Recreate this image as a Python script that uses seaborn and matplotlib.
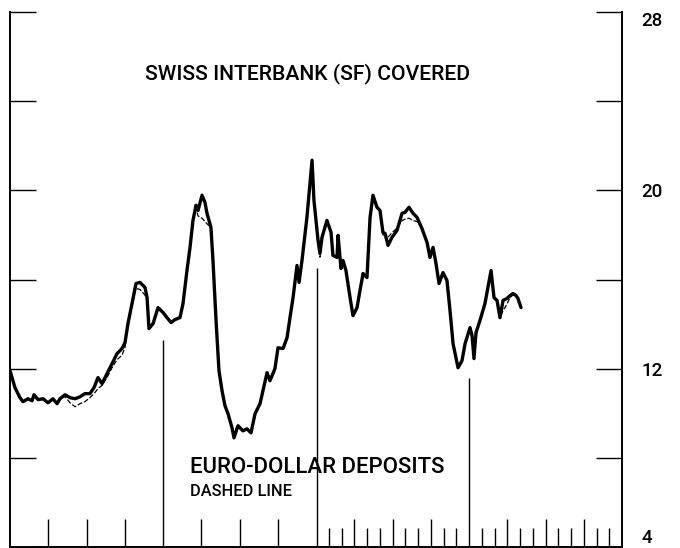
import numpy as np
import pandas as pd
import matplotlib
matplotlib.use("Agg")
import matplotlib.pyplot as plt
import seaborn as sns

# months since start of the 4-year window
months = [0.00, 0.39, 0.78, 1.02, 1.41, 1.73, 1.88, 2.20, 2.59, 2.98,
          3.37, 3.69, 3.92, 4.31, 4.71, 5.10, 5.49, 5.88, 6.27, 6.59,
          6.90, 7.22, 7.61, 8.00, 8.39, 8.78, 9.02, 9.25, 9.41, 9.57,
          9.88, 10.20, 10.59, 10.75, 10.90, 11.22, 11.61, 12.00, 12.31, 12.63,
          12.94, 13.33, 13.57, 13.88, 14.12, 14.35, 14.59, 14.75, 15.06, 15.29,
          15.45, 15.76, 15.92, 16.16, 16.39, 16.63, 16.86, 17.10, 17.41, 17.57,
          17.88, 18.27, 18.59, 18.90, 19.22, 19.61, 19.84, 20.16, 20.39, 20.78,
          21.02, 21.41, 21.73, 21.96, 22.20, 22.51, 22.67, 22.90, 23.29, 23.69,
          23.84, 24.16, 24.31, 24.47, 24.86, 25.18, 25.33, 25.65, 25.73, 25.96,
          26.12, 26.35, 26.67, 26.90, 27.22, 27.45, 27.69, 28.00, 28.24, 28.47,
          28.78, 29.02, 29.25, 29.41, 29.65, 29.96, 30.35, 30.75, 30.98, 31.29,
          31.61, 31.92, 32.31, 32.71, 32.94, 33.18, 33.41, 33.65, 33.96, 34.27,
          34.51, 34.75, 35.14, 35.45, 35.69, 36.08, 36.24, 36.39, 36.55, 36.86,
          37.25, 37.73, 37.96, 38.20, 38.43, 38.67, 38.98, 39.22, 39.45, 39.69,
          39.84, 40.08]

# Swiss interbank (SF) covered - solid line
swiss = [11.91, 11.15, 10.70, 10.52, 10.65, 10.56, 10.83, 10.61, 10.65, 10.47,
         10.65, 10.43, 10.65, 10.83, 10.70, 10.65, 10.74, 10.88, 10.88, 11.15,
         11.60, 11.33, 11.78, 12.22, 12.67, 12.90, 13.17, 14.02, 14.47, 14.92,
         15.82, 15.87, 15.64, 15.19, 13.80, 14.02, 14.74, 14.52, 14.29, 14.07,
         14.20, 14.29, 14.92, 16.40, 17.44, 18.65, 19.33, 19.10, 19.78, 19.46,
         18.97, 18.34, 16.85, 14.16, 11.91, 11.01, 10.34, 9.98, 9.35, 8.90,
         9.44, 9.21, 9.30, 9.12, 9.98, 10.43, 11.01, 11.82, 11.46, 12.00,
         12.94, 12.90, 13.39, 14.29, 15.19, 16.63, 15.87, 16.85, 18.79, 21.35,
         19.55, 17.75, 17.17, 17.89, 18.65, 18.11, 17.08, 16.99, 17.98, 16.49,
         16.85, 16.40, 15.19, 14.38, 14.74, 15.51, 16.27, 16.09, 18.79, 19.78,
         19.24, 19.10, 18.11, 18.07, 17.53, 17.89, 18.20, 18.97, 19.01, 19.24,
         18.97, 18.79, 18.29, 17.66, 16.99, 17.44, 16.72, 15.82, 16.31, 15.96,
         14.61, 13.12, 12.04, 12.36, 13.12, 13.84, 13.48, 12.45, 13.62, 14.16,
         14.92, 16.40, 15.19, 15.06, 14.29, 15.06, 15.15, 15.28, 15.37, 15.28,
         15.15, 14.74]

# Euro-dollar deposits - dashed line
euro = [11.91, 11.15, 10.70, 10.52, 10.65, 10.56, 10.83, 10.61, 10.65, 10.47,
        10.65, 10.43, 10.65, 10.75, 10.47, 10.29, 10.43, 10.52, 10.70, 10.88,
        11.10, 11.25, 11.60, 12.04, 12.40, 12.60, 12.95, 13.90, 14.40, 14.85,
        15.60, 15.55, 15.30, 15.05, 13.80, 14.02, 14.74, 14.52, 14.29, 14.07,
        14.20, 14.29, 14.92, 16.40, 17.44, 18.65, 19.20, 18.85, 18.75, 18.60,
        18.50, 18.34, 16.85, 14.16, 11.91, 11.01, 10.34, 9.98, 9.35, 8.90,
        9.44, 9.21, 9.30, 9.12, 9.98, 10.43, 11.01, 11.82, 11.46, 12.00,
        12.94, 12.90, 13.39, 14.29, 15.19, 16.63, 15.87, 16.85, 18.79, 21.35,
        19.55, 17.60, 17.00, 17.80, 18.65, 18.11, 17.08, 16.99, 17.98, 16.49,
        16.85, 16.40, 15.19, 14.38, 14.74, 15.51, 16.27, 16.09, 18.79, 19.78,
        19.24, 19.10, 18.00, 18.00, 17.90, 18.10, 18.30, 18.65, 18.70, 18.75,
        18.65, 18.60, 18.29, 17.66, 16.99, 17.44, 16.72, 15.82, 16.31, 15.96,
        14.61, 13.12, 12.04, 12.36, 13.12, 13.84, 13.48, 12.45, 13.62, 14.16,
        14.92, 16.40, 15.19, 15.06, 14.29, 14.60, 14.90, 15.20, 15.30, 15.28,
        15.15, 14.74]

# year boundary markers and how far they rise
year_marks = [12, 24.1, 36]
year_mark_tops = [13.3, 16.5, 11.6]

y_ticks = [4, 8, 12, 16, 20, 24, 28]
y_labels = ["4", "", "12", "", "20", "", "28"]

df = pd.DataFrame({"month": months, "swiss": swiss, "euro": euro})

sns.set_style("white")
plt.rcParams["font.family"] = ["Roboto", "Liberation Sans", "DejaVu Sans"]
plt.rcParams["text.color"] = "black"
plt.rcParams["ytick.labelcolor"] = "black"

fig = plt.figure(figsize=(6.8, 5.48), dpi=100)
ax = fig.add_axes([10 / 680, 1 / 548, 612 / 680, 535 / 548])

sns.lineplot(data=df, x="month", y="euro", ax=ax, color="black",
             linewidth=0.9, linestyle=(0, (4, 1.5)), estimator=None, sort=False, zorder=2)
sns.lineplot(data=df, x="month", y="swiss", ax=ax, color="black",
             linewidth=2.4, estimator=None, sort=False, zorder=3)

ax.vlines(year_marks, 4, year_mark_tops, color="black", linewidth=1.0)

ax.set_xlim(0, 48)
ax.set_ylim(4, 28)
ax.set_xlabel("")
ax.set_ylabel("")

# spines
ax.spines["top"].set_visible(False)
for s in ["left", "right", "bottom"]:
    ax.spines[s].set_visible(True)
    ax.spines[s].set_color("black")
    ax.spines[s].set_linewidth(1.4)

# y axis: ticks on both sides, labels right
ax.set_yticks(y_ticks)
ax.set_yticklabels(y_labels)
ax.yaxis.set_ticks_position("both")
ax.tick_params(axis="y", direction="in", length=19, width=1.0, color="black",
               left=True, right=True, labelleft=False, labelright=True,
               pad=14, labelsize=13.5)
for lab in ax.get_yticklabels(which="major"):
    lab.set_fontweight("medium")
    if lab.get_text() == "28":
        lab.set_va("top")
    elif lab.get_text() == "4":
        lab.set_va("bottom")

# x axis: quarterly ticks, monthly in last two years
quarter_ticks = [m for m in range(3, 48, 3) if m % 12 != 0]
month_ticks = [m for m in range(25, 48) if m % 3 != 0]
ax.set_xticks(quarter_ticks)
ax.set_xticks(month_ticks, minor=True)
ax.set_xticklabels([])
ax.tick_params(axis="x", which="major", direction="in", length=20, width=1.0,
               color="black", bottom=True, labelbottom=False)
ax.tick_params(axis="x", which="minor", direction="in", length=14, width=1.0,
               color="black", bottom=True)

ax.text(23.3, 25.25, "SWISS INTERBANK (SF) COVERED", ha="center", va="center",
        fontsize=15.2, fontweight="medium")
ax.text(14.1, 7.55, "EURO-DOLLAR DEPOSITS", ha="left", va="center",
        fontsize=15.9, fontweight="medium")
ax.text(14.1, 6.5, "DASHED LINE", ha="left", va="center", fontsize=11.8,
        fontweight="medium")

fig.savefig("out.png", dpi=100)
